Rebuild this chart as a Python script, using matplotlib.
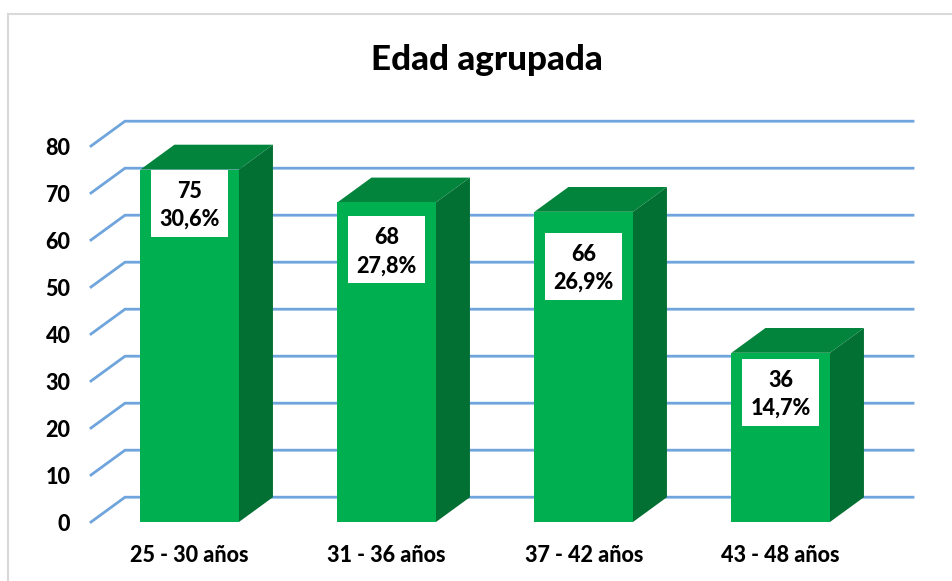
import matplotlib.pyplot as plt
from matplotlib.patches import Polygon, Rectangle

plt.rcParams['font.family'] = ['Lato', 'DejaVu Sans']

categories = ['25 - 30 años', '31 - 36 años', '37 - 42 años', '43 - 48 años']
counts = [75, 68, 66, 36]
percents = ['30,6%', '27,8%', '26,9%', '14,7%']
yticks = [0, 10, 20, 30, 40, 50, 60, 70, 80]

# where the white label boxes sit, in axis units (centre height)
label_y = [67.8, 57.9, 54.3, 27.6]

FRONT = '#00b050'
TOP = '#03843c'
SIDE = '#026f33'
GRID = '#6fa5dc'

W, H = 952, 581
fig = plt.figure(figsize=(W / 100, H / 100), dpi=100)
ax = fig.add_axes([91 / W, (H - 522) / H, 788 / W, 376 / H])
ax.set_xlim(0, 4)
ax.set_ylim(0, 80)
ax.axis('off')

# depth of the fake 3D box in axis units
dx = 34 / 197
dy = 24.8 / 4.7
bar_w = 98.5 / 197

# outer chart frame, only left and top edges show in the crop
fig.add_artist(plt.Line2D([7.5 / W, 7.5 / W], [0, (H - 14) / H], color='#d9d9d9', lw=1.5))
fig.add_artist(plt.Line2D([7.5 / W, 1], [(H - 14) / H, (H - 14) / H], color='#d9d9d9', lw=1.5))

# gridlines run up the side wall then along the back wall
for v in yticks:
    ax.plot([0, dx, 4 + dx], [v, v + dy, v + dy], color=GRID, lw=2, clip_on=False,
            solid_joinstyle='miter', zorder=1)
    ax.text(-20.5 / 197, v - 0.55, str(v), ha='right', va='center', fontsize=15.5, fontweight='black',
            color='black', clip_on=False)

for i, (cat, n, pct) in enumerate(zip(categories, counts, percents)):
    x0 = i + (1 - bar_w) / 2 + 0.001
    x1 = x0 + bar_w
    ax.add_patch(Polygon([(x1, 0), (x1 + dx, dy), (x1 + dx, n + dy), (x1, n)],
                         facecolor=SIDE, edgecolor='none', clip_on=False, zorder=2))
    ax.add_patch(Polygon([(x0, n), (x0 + dx, n + dy), (x1 + dx, n + dy), (x1, n)],
                         facecolor=TOP, edgecolor='none', clip_on=False, zorder=2))
    ax.add_patch(Rectangle((x0, 0), bar_w, n, facecolor=FRONT, edgecolor='none', zorder=3))

    # label box
    bx = 77 / 197
    by = 67 / 4.7
    xc = (x0 + x1) / 2
    ax.add_patch(Rectangle((xc - bx / 2, label_y[i] - by / 2), bx, by, facecolor='white',
                           edgecolor='none', zorder=4))
    ax.text(xc, label_y[i] - 0.4, f'{n}\n{pct}', ha='center', va='center', fontsize=15.5,
            fontweight='black', color='black', linespacing=1.4, zorder=5)

    ax.text(xc, -33 / 4.7, cat, ha='center', va='center', fontsize=15.5, fontweight='black',
            color='black', clip_on=False)

fig.text(487 / W, (H - 60) / H, 'Edad agrupada', ha='center', va='center', fontsize=25.2,
         fontweight='black', color='black')

fig.savefig('out.png', dpi=100)
